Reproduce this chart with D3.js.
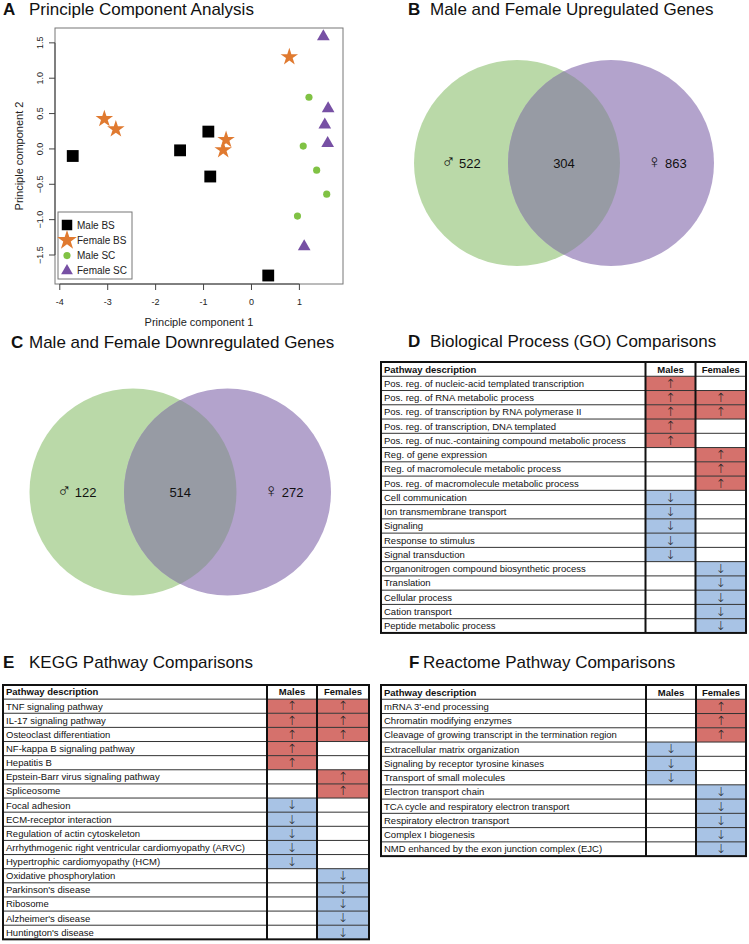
<!DOCTYPE html>
<html lang="en">
<head>
<meta charset="UTF-8" />
<title>Male and female gene expression comparisons</title>
<style>
  body { margin: 0; background: #fff; font-family: "Liberation Sans", Arial, sans-serif; }
  svg { display: block; }
  .ptitle { font-size: 17px; fill: #111; }
  .plabel { font-size: 17px; font-weight: bold; fill: #111; }
  .tick-lab { font-size: 9px; fill: #222; }
  .cell { font-size: 9.5px; fill: #111; }
  .hdr { font-size: 9.5px; font-weight: bold; fill: #111; }
  .arrow { font-family: "DejaVu Sans", sans-serif; font-weight: 200; font-size: 12.5px; fill: #222; }
  .sex { font-family: "DejaVu Sans", sans-serif; font-weight: 200; font-size: 19px; }
</style>
</head>
<body>
<svg width="749" height="944"></svg>
<script src="https://d3js.org/d3.v7.min.js"></script>
<script>
// ---- Panel A: PCA points ----
const pcaGroups = ["Male BS", "Female BS", "Male SC", "Female SC"];
const maleBS   = [[-3.73, -0.10], [-1.49, -0.02], [-0.90, 0.245], [-0.86, -0.39], [0.35, -1.79]];
const femaleBS = [[-3.07, 0.425], [-2.83, 0.28], [-0.53, 0.13], [-0.59, -0.015], [0.79, 1.30]];
const maleSC   = [[1.20, 0.73], [1.08, 0.04], [1.36, -0.30], [1.57, -0.64], [0.96, -0.95]];
const femaleSC = [[1.50, 1.59], [1.60, 0.57], [1.53, 0.34], [1.59, 0.08], [1.10, -1.38]];
const xTicks = [-4, -3, -2, -1, 0, 1];
const yTicks = [-1.5, -1.0, -0.5, 0.0, 0.5, 1.0, 1.5];

// ---- Panels B, C: Venn counts ----
const upCounts = { male: 522, both: 304, female: 863 };
const downCounts = { male: 122, both: 514, female: 272 };

// ---- Panel D: GO ----
const goPathways = [
  "Pos. reg. of nucleic-acid templated transcription",
  "Pos. reg. of RNA metabolic process",
  "Pos. reg. of transcription by RNA polymerase II",
  "Pos. reg. of transcription, DNA templated",
  "Pos. reg. of nuc.-containing compound metabolic process",
  "Reg. of gene expression",
  "Reg. of macromolecule metabolic process",
  "Pos. reg. of macromolecule metabolic process",
  "Cell communication",
  "Ion transmembrane transport",
  "Signaling",
  "Response to stimulus",
  "Signal transduction",
  "Organonitrogen compound biosynthetic process",
  "Translation",
  "Cellular process",
  "Cation transport",
  "Peptide metabolic process"
];
const goMales   = ["up","up","up","up","up","","","","down","down","down","down","down","","","","",""];
const goFemales = ["","up","up","","","up","up","up","","","","","","down","down","down","down","down"];

// ---- Panel E: KEGG ----
const keggPathways = [
  "TNF signaling pathway",
  "IL-17 signaling pathway",
  "Osteoclast differentiation",
  "NF-kappa B signaling pathway",
  "Hepatitis B",
  "Epstein-Barr virus signaling pathway",
  "Spliceosome",
  "Focal adhesion",
  "ECM-receptor interaction",
  "Regulation of actin cytoskeleton",
  "Arrhythmogenic right ventricular cardiomyopathy (ARVC)",
  "Hypertrophic cardiomyopathy (HCM)",
  "Oxidative phosphorylation",
  "Parkinson's disease",
  "Ribosome",
  "Alzheimer's disease",
  "Huntington's disease"
];
const keggMales   = ["up","up","up","up","up","","","down","down","down","down","down","","","","",""];
const keggFemales = ["up","up","up","","","up","up","","","","","","down","down","down","down","down"];

// ---- Panel F: Reactome ----
const reactomePathways = [
  "mRNA 3'-end processing",
  "Chromatin modifying enzymes",
  "Cleavage of growing transcript in the termination region",
  "Extracellular matrix organization",
  "Signaling by receptor tyrosine kinases",
  "Transport of small molecules",
  "Electron transport chain",
  "TCA cycle and respiratory electron transport",
  "Respiratory electron transport",
  "Complex I biogenesis",
  "NMD enhanced by the exon junction complex (EJC)"
];
const reactomeMales   = ["","","","down","down","down","","","","",""];
const reactomeFemales = ["up","up","up","","","","down","down","down","down","down"];

const svg = d3.select("svg");

function panelTitle(letter, text, lx, tx, y) {
  svg.append("text").attr("class", "plabel").attr("x", lx).attr("y", y).text(letter);
  svg.append("text").attr("class", "ptitle").attr("x", tx).attr("y", y).text(text);
}

// ================= Panel A =================
panelTitle("A", "Principle Component Analysis", 3, 29, 14.5);
const x = d3.scaleLinear().domain([-4.1, 1.91]).range([55, 343]);
const y = d3.scaleLinear().domain([-1.91, 1.71]).range([284, 28]);
const gA = svg.append("g");

gA.append("rect").attr("x", 55).attr("y", 28).attr("width", 288).attr("height", 256)
  .attr("fill", "none").attr("stroke", "#777").attr("stroke-width", 1);

// x axis (R style: ticks below box)
const xAxis = gA.append("g");
xAxis.append("line").attr("x1", x(-4)).attr("x2", x(1)).attr("y1", 284).attr("y2", 284).attr("stroke", "#444");
xAxis.selectAll("line.t").data(xTicks).join("line").attr("class", "t")
  .attr("x1", d => x(d)).attr("x2", d => x(d)).attr("y1", 284).attr("y2", 290).attr("stroke", "#444");
xAxis.selectAll("text").data(xTicks).join("text").attr("class", "tick-lab")
  .attr("x", d => x(d)).attr("y", 305).attr("text-anchor", "middle").text(d => d);

const yAxis = gA.append("g");
yAxis.append("line").attr("x1", 55).attr("x2", 55).attr("y1", y(-1.5)).attr("y2", y(1.5)).attr("stroke", "#444");
yAxis.selectAll("line.t").data(yTicks).join("line").attr("class", "t")
  .attr("x1", 49).attr("x2", 55).attr("y1", d => y(d)).attr("y2", d => y(d)).attr("stroke", "#444");
yAxis.selectAll("text").data(yTicks).join("text").attr("class", "tick-lab")
  .attr("transform", d => `translate(43,${y(d)}) rotate(-90)`)
  .attr("text-anchor", "middle").text(d => d3.format(".1f")(d));

gA.append("text").attr("x", 199).attr("y", 326).attr("text-anchor", "middle")
  .style("font-size", "11px").attr("fill", "#222").text("Principle component 1");
gA.append("text").attr("transform", "translate(23,156) rotate(-90)").attr("text-anchor", "middle")
  .style("font-size", "11px").attr("fill", "#222").text("Principle component 2");

const groupStyle = [
  { data: maleBS,   symbol: d3.symbolSquare,   size: 140, color: "#000000", lsize: 110 },
  { data: femaleBS, symbol: d3.symbolStar,     size: 95,  color: "#e07a30", lsize: 120 },
  { data: maleSC,   symbol: d3.symbolCircle,   size: 40,  color: "#80c244", lsize: 40 },
  { data: femaleSC, symbol: d3.symbolTriangle, size: 70,  color: "#7750a4", lsize: 60 }
];
groupStyle.forEach(g => {
  gA.append("g").selectAll("path").data(g.data).join("path")
    .attr("d", d3.symbol(g.symbol, g.size))
    .attr("transform", d => `translate(${x(d[0])},${y(d[1])})`)
    .attr("fill", g.color);
});

// legend
const leg = gA.append("g");
leg.append("rect").attr("x", 58).attr("y", 212).attr("width", 74).attr("height", 67)
  .attr("fill", "#fff").attr("stroke", "#777");
pcaGroups.forEach((name, i) => {
  const ly = 225 + i * 15.3;
  leg.append("path").attr("d", d3.symbol(groupStyle[i].symbol, groupStyle[i].lsize))
    .attr("transform", `translate(67,${ly})`).attr("fill", groupStyle[i].color);
  leg.append("text").attr("x", 77).attr("y", ly + 3.5).style("font-size", "10px")
    .attr("fill", "#222").text(name);
});

// ================= Panels B, C: Venn =================
function venn(id, counts, cx1, cx2, cy, r) {
  const g = svg.append("g");
  g.append("clipPath").attr("id", id).append("circle").attr("cx", cx1).attr("cy", cy).attr("r", r);
  g.append("circle").attr("cx", cx1).attr("cy", cy).attr("r", r).attr("fill", "#bad9a8");
  g.append("circle").attr("cx", cx2).attr("cy", cy).attr("r", r).attr("fill", "#b3a3cc");
  g.append("circle").attr("cx", cx2).attr("cy", cy).attr("r", r).attr("fill", "#979ba4")
    .attr("clip-path", `url(#${id})`);
  const mid = (cx1 + cx2) / 2;
  const lx = (cx1 - r + (cx2 - r)) / 2, rx = (cx1 + r + (cx2 + r)) / 2;
  const t = g.append("g").style("font-size", "13px").attr("fill", "#111").attr("text-anchor", "middle");
  const a = t.append("text").attr("x", lx).attr("y", cy + 4.5);
  a.append("tspan").attr("class", "sex").text("\u2642");
  a.append("tspan").text(" " + counts.male);
  t.append("text").attr("x", mid).attr("y", cy + 4.5).text(counts.both);
  const b = t.append("text").attr("x", rx).attr("y", cy + 4.5);
  b.append("tspan").attr("class", "sex").text("\u2640");
  b.append("tspan").text(" " + counts.female);
}
panelTitle("B", "Male and Female Upregulated Genes", 408, 430, 14.5);
venn("clipB", upCounts, 517, 611, 163, 103);
panelTitle("C", "Male and Female Downregulated Genes", 11, 29, 347.5);
venn("clipC", downCounts, 133, 227.5, 492, 103.5);

// ================= Tables =================
function table(pathways, males, females, x0, x1, x2, x3, top, rowH) {
  const rows = ["header"].concat(pathways.map((p, i) => i));
  const ry = d3.scaleBand().domain(rows.map((d, i) => i)).range([top, top + rows.length * rowH]);
  const g = svg.append("g");
  const fill = { up: "#d5716c", down: "#a8c3e5" };
  const arrow = { up: "\u2191", down: "\u2193" };
  pathways.forEach((p, i) => {
    const yy = ry(i + 1), h = ry.bandwidth();
    [[males[i], x1, x2], [females[i], x2, x3]].forEach(([v, a, b]) => {
      if (!v) return;
      g.append("rect").attr("x", a).attr("y", yy).attr("width", b - a).attr("height", h).attr("fill", fill[v]);
      g.append("text").attr("class", "arrow").attr("x", (a + b) / 2).attr("y", yy + h / 2 + 4.3)
        .attr("text-anchor", "middle").text(arrow[v]);
    });
    g.append("text").attr("class", "cell").attr("x", x0 + 3).attr("y", yy + h / 2 + 3.4).text(p);
  });
  // header
  const hy = ry(0) + ry.bandwidth() / 2 + 3.4;
  g.append("text").attr("class", "hdr").attr("x", x0 + 3).attr("y", hy).text("Pathway description");
  g.append("text").attr("class", "hdr").attr("x", (x1 + x2) / 2).attr("y", hy).attr("text-anchor", "middle").text("Males");
  g.append("text").attr("class", "hdr").attr("x", (x2 + x3) / 2).attr("y", hy).attr("text-anchor", "middle").text("Females");
  // grid lines
  const bottom = top + rows.length * rowH;
  g.selectAll("line.h").data(rows.slice(1)).join("line").attr("class", "h")
    .attr("x1", x0).attr("x2", x3).attr("y1", (d, i) => ry(i + 1)).attr("y2", (d, i) => ry(i + 1))
    .attr("stroke", "#333").attr("stroke-width", 1);
  [x1, x2].forEach(cx => g.append("line").attr("x1", cx).attr("x2", cx).attr("y1", top).attr("y2", bottom)
    .attr("stroke", "#111").attr("stroke-width", 2));
  g.append("rect").attr("x", x0).attr("y", top).attr("width", x3 - x0).attr("height", bottom - top)
    .attr("fill", "none").attr("stroke", "#111").attr("stroke-width", 2);
}

panelTitle("D", "Biological Process (GO) Comparisons", 408, 430, 347);
table(goPathways, goMales, goFemales, 381, 645.5, 695.5, 746, 362, 14.26);

panelTitle("E", "KEGG Pathway Comparisons", 3, 29, 668);
table(keggPathways, keggMales, keggFemales, 3, 267, 317, 369, 685, 14.13);

panelTitle("F", "Reactome Pathway Comparisons", 409, 423, 668);
table(reactomePathways, reactomeMales, reactomeFemales, 381, 646, 696, 746, 685, 14.26);
</script>
</body>
</html>
